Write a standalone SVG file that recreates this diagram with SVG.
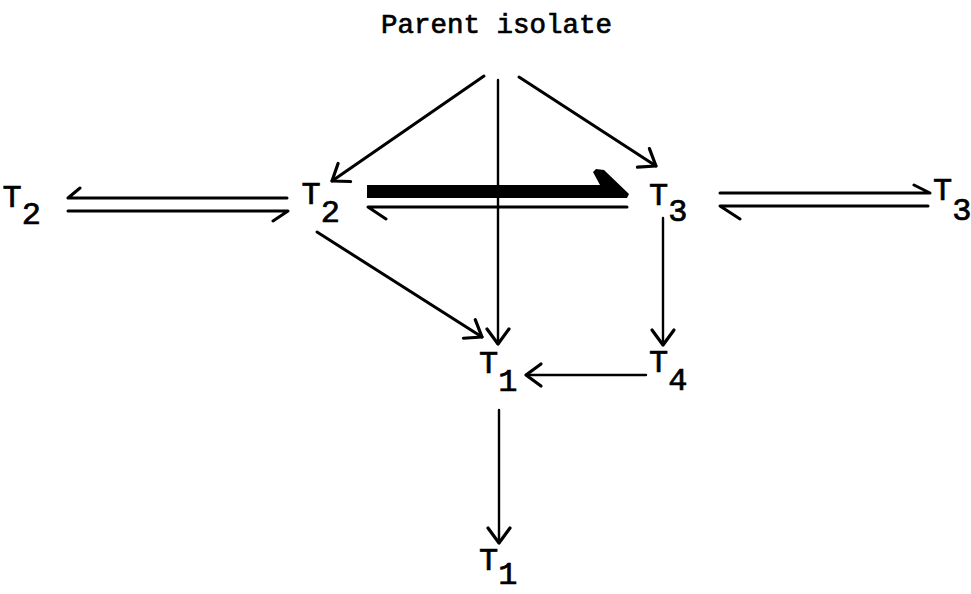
<svg xmlns="http://www.w3.org/2000/svg" width="971" height="594" viewBox="0 0 971 594">
  <style>
    .lbl { font-family: "Liberation Mono", "Courier New", monospace; fill: #000; stroke: #000; stroke-width: 0.7; }
    .t { font-size: 32px; }
    .title { font-size: 27.5px; }
    .ln { fill: none; stroke: #000; stroke-width: 3; stroke-linecap: round; stroke-linejoin: round; }
    .thin { stroke-width: 2.4; }
  </style>
  <defs>
    <marker id="head" markerUnits="userSpaceOnUse" orient="auto" refX="0" refY="0" markerWidth="40" markerHeight="40" overflow="visible">
      <path d="M-15,-11 L0,0 L-15,11" fill="none" stroke="#000" stroke-width="3.2" stroke-linecap="round" stroke-linejoin="round"/>
    </marker>
  </defs>
  <rect width="971" height="594" fill="#fff"/>

  <g id="parent">
    <text class="lbl title" x="381" y="33">Parent isolate</text>
  </g>
  <g id="t2-left">
    <text class="lbl t" x="2.5" y="207">T<tspan dy="17">2</tspan></text>
  </g>
  <g id="t2">
    <text class="lbl t" x="301.5" y="204">T<tspan dy="18">2</tspan></text>
  </g>
  <g id="t3">
    <text class="lbl t" x="649" y="205">T<tspan dy="16">3</tspan></text>
  </g>
  <g id="t3-right">
    <text class="lbl t" x="933" y="200">T<tspan dy="20">3</tspan></text>
  </g>
  <g id="t1">
    <text class="lbl t" x="479" y="373">T<tspan dy="18">1</tspan></text>
  </g>
  <g id="t4">
    <text class="lbl t" x="649" y="372">T<tspan dy="18">4</tspan></text>
  </g>
  <g id="t1-bottom">
    <text class="lbl t" x="479" y="570">T<tspan dy="14">1</tspan></text>
  </g>

  <g id="connectors">
    <!-- from the parent isolate -->
    <path class="ln" d="M484,76 L332,181" marker-end="url(#head)"/>
    <path class="ln thin" d="M498,80 L498,344" marker-end="url(#head)"/>
    <path class="ln" d="M519,77 L656,166" marker-end="url(#head)"/>
    <!-- T2 to T1, T3 to T4, T4 to T1, T1 to T1 -->
    <path class="ln" d="M317,232 L482,337" marker-end="url(#head)"/>
    <path class="ln thin" d="M663,218 L663,345" marker-end="url(#head)"/>
    <path class="ln thin" d="M646,375 L526,375" marker-end="url(#head)"/>
    <path class="ln thin" d="M499,410 L499,543" marker-end="url(#head)"/>
    <!-- left equilibrium pair (harpoons) -->
    <path class="ln" d="M80,188 L68,198 L287,198"/>
    <path class="ln" d="M68,211 L288,211 L273,221"/>
    <!-- heavy forward arrow T2 to T3 with return harpoon -->
    <polygon points="367,185 600,185 593,172 596,169 604,170 629,194 627,198 367,198" fill="#000"/>
    <path class="ln" d="M386,219 L368,207 L627,207"/>
    <!-- right equilibrium pair (harpoons) -->
    <path class="ln" d="M720,193 L930,193 L914,185"/>
    <path class="ln" d="M740,219 L720,206 L928,206"/>
  </g>
</svg>
